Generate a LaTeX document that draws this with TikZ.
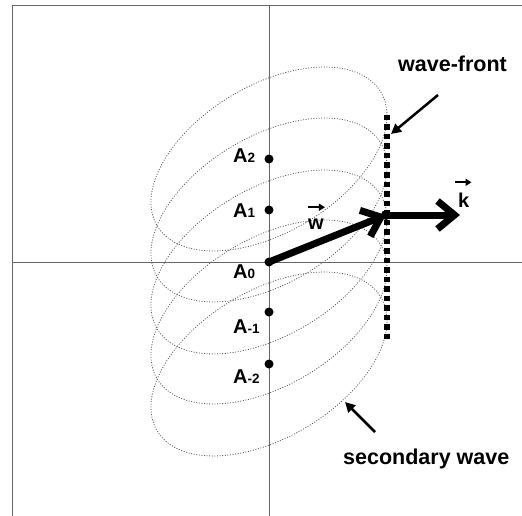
\documentclass[tikz,border=0pt]{standalone}
\usepackage{fontspec}
\setmainfont{Liberation Sans}
\usetikzlibrary{arrows.meta}
\begin{document}
\begin{tikzpicture}[x=1pt,y=-1pt,
  axisline/.style={draw=black!60, line width=0.9pt},
  wavecurve/.style={draw=black!65, line width=0.8pt, dash pattern=on 1pt off 1.6pt},
  srcdot/.style={circle, fill=black, inner sep=0pt, minimum size=9pt},
  lbl/.style={font=\fontsize{20}{20}\selectfont\bfseries, inner sep=0pt, anchor=base west},
  note/.style={font=\fontsize{21.5}{22}\selectfont\bfseries, inner sep=0pt, anchor=base west},
  veclbl/.style={font=\fontsize{20}{20}\selectfont\bfseries, inner sep=0pt, anchor=base west},
  vecarrow/.style={line width=7pt, line cap=round, -{Straight Barb[length=17pt,width=28pt]}},
  pointer/.style={line width=2.5pt, -{Triangle[length=10pt,width=10pt]}},
  overarrow/.style={line width=2pt, -{Triangle[length=6pt,width=7pt]}},
  front/.style={line width=5.5pt, dash pattern=on 5.5pt off 4pt}
]
\useasboundingbox (0,0) rectangle (522,516);
% frame and axes
\draw[axisline] (12,516) -- (12,5) -- (522,5);
\draw[axisline] (12,262) -- (522,262);
\draw[axisline] (269,5) -- (269,516);
% source points
\coordinate (A2) at (269,159);
\coordinate (A1) at (269,210);
\coordinate (A0) at (269,262);
\coordinate (Am1) at (269,312);
\coordinate (Am2) at (269,364);
% secondary waves
\foreach \n in {A2,A1,A0,Am1,Am2}
  \draw[wavecurve, rotate around={30.9:(\n)}] (\n) ellipse [x radius=130.3, y radius=73.5];
\foreach \n in {A2,A1,A0,Am1,Am2}
  \node[srcdot] (d\n) at (\n) {};
% labels
\node[lbl] (lA2) at (233,162) {A{\fontsize{13.5}{13.5}\selectfont 2}};
\node[lbl] (lA1) at (233,217) {A{\fontsize{13.5}{13.5}\selectfont 1}};
\node[lbl] (lA0) at (233,278) {A{\fontsize{13.5}{13.5}\selectfont 0}};
\node[lbl] (lAm1) at (233,333) {A{\fontsize{13.5}{13.5}\selectfont -1}};
\node[lbl] (lAm2) at (233,383) {A{\fontsize{13.5}{13.5}\selectfont -2}};
% wave-front
\coordinate (wfTop) at (387,115);
\coordinate (wfBot) at (387,341);
\draw[front] (wfTop) -- (wfBot);
% vectors
\coordinate (P) at (386,215);
\coordinate (ktip) at (460,215);
\draw[vecarrow] (dA0.center) -- (P);
\draw[vecarrow] (P) -- (ktip);
\fill (P) circle (5pt);
\node[veclbl] (klbl) at (458,207) {k};
\draw[overarrow] ([shift={(-3,-10)}]klbl.north west) -- ([shift={(2,-10)}]klbl.north east);
\node[veclbl] (wlbl) at (308,229) {w};
\draw[overarrow] ([shift={(0,-11)}]wlbl.north west) -- ([shift={(1,-11)}]wlbl.north east);
% annotations
\node[note] (wftxt) at (398,72) {wave-front};
\coordinate (wfTail) at (438,95);
\coordinate (wfHead) at (391,134);
\draw[pointer] (wfTail) -- (wfHead);
\node[note] (swtxt) at (343,464) {secondary wave};
\coordinate (swTail) at (375,432);
\coordinate (swHead) at (345,402);
\draw[pointer] (swTail) -- (swHead);
\end{tikzpicture}
\end{document}
